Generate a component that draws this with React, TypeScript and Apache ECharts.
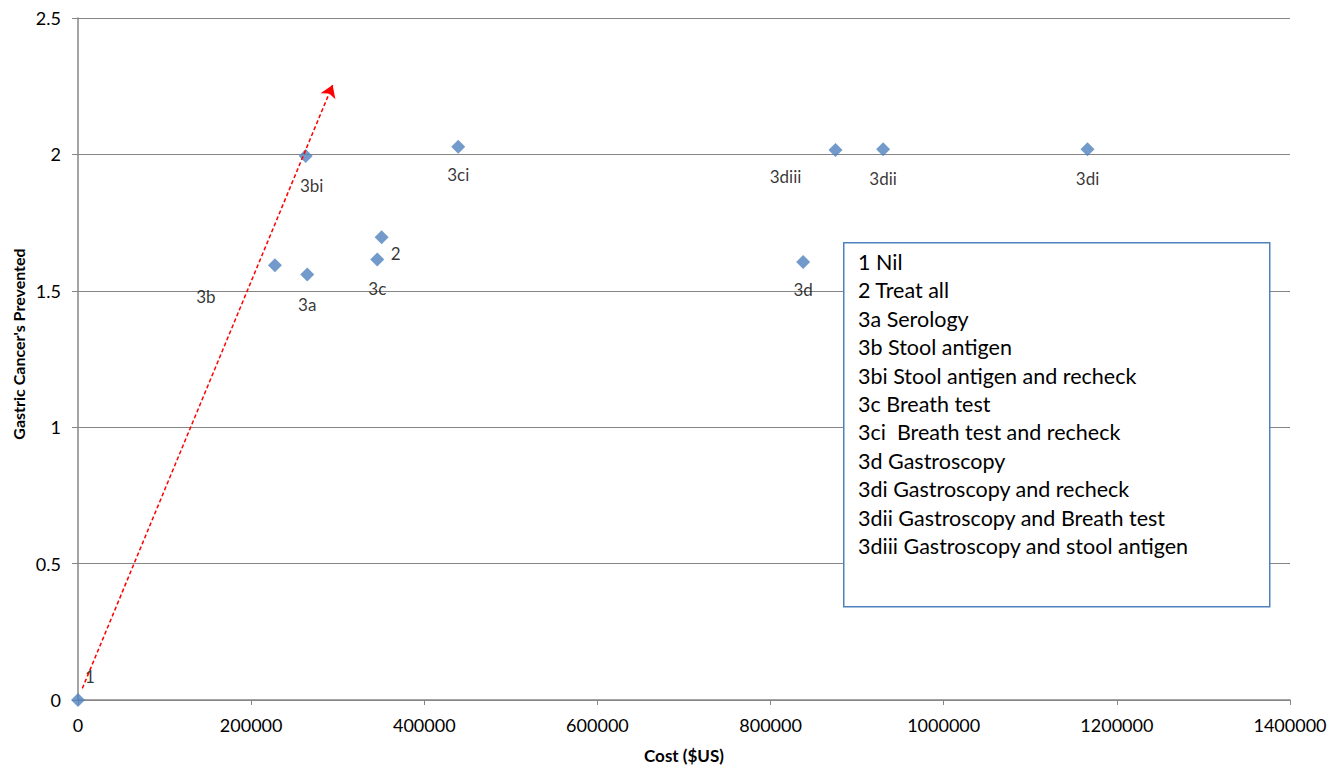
import React, { useEffect, useRef } from "react";
import * as echarts from "echarts";

const strategyNames = ["1", "2", "3a", "3b", "3bi", "3c", "3ci", "3d", "3di", "3dii", "3diii"];
const costUS = [0, 350700, 264800, 227500, 263000, 345700, 439200, 837600, 1166100, 930000, 875000];
const cancersPrevented = [0, 1.696, 1.56, 1.594, 1.994, 1.615, 2.028, 1.606, 2.019, 2.019, 2.016];

const xTicks = [0, 200000, 400000, 600000, 800000, 1000000, 1200000, 1400000];
const yTicks = [0, 0.5, 1, 1.5, 2, 2.5];

const arrowStart = [4966, 0.0425];
const arrowEnd = [294100, 2.254];

const xTitle = "Cost ($US)";
const yTitle = "Gastric Cancer's Prevented";

const legendLines = [
  "1 Nil",
  "2 Treat all",
  "3a Serology",
  "3b Stool antigen",
  "3bi Stool antigen and recheck",
  "3c Breath test",
  "3ci  Breath test and recheck",
  "3d Gastroscopy",
  "3di Gastroscopy and recheck",
  "3dii Gastroscopy and Breath test",
  "3diii Gastroscopy and stool antigen",
];

const labelOffsets: Record<string, [number, number]> = {
  "1": [12, -24],
  "2": [14, 16],
  "3a": [0, 30],
  "3b": [-69, 31],
  "3bi": [6, 29],
  "3c": [0, 29],
  "3ci": [0, 28],
  "3d": [0, 28],
  "3di": [0, 29],
  "3dii": [0, 29],
  "3diii": [-50, 26],
};

const FONT = "Lato, 'Open Sans', sans-serif";

export default function App() {
  const ref = useRef<HTMLDivElement>(null);
  useEffect(() => {
    if (!ref.current) return;
    const chart = echarts.init(ref.current, null, { renderer: "svg" });
    const points = strategyNames.map((n, i) => ({
      name: n,
      value: [costUS[i], cancersPrevented[i]],
      label: { offset: labelOffsets[n] },
    }));
    chart.setOption({
      animation: false,
      backgroundColor: "#ffffff",
      textStyle: { fontFamily: FONT },
      grid: { left: 78, right: 49, top: 18, bottom: 66, containLabel: false },
      xAxis: {
        type: "value",
        min: xTicks[0],
        max: xTicks[xTicks.length - 1],
        interval: 200000,
        axisLine: { show: true, lineStyle: { color: "#868686", width: 1.5 } },
        axisTick: { show: true, length: 5, inside: false, lineStyle: { color: "#868686" } },
        axisLabel: {
          fontSize: 18,
          color: "#000",
          margin: 16,
          fontFamily: FONT,
          formatter: (v: number) => String(v),
        },
        splitLine: { show: false },
      },
      yAxis: {
        type: "value",
        min: yTicks[0],
        max: yTicks[yTicks.length - 1],
        interval: 0.5,
        axisLine: { show: true, lineStyle: { color: "#868686", width: 1.5 } },
        axisTick: { show: true, length: 6, inside: false, lineStyle: { color: "#868686" } },
        axisLabel: { fontSize: 18, color: "#000", margin: 17, fontFamily: FONT, formatter: (v: number) => String(v) },
        splitLine: { show: true, lineStyle: { color: "#868686", width: 1.2 } },
      },
      series: [
        {
          type: "scatter",
          symbol: "diamond",
          symbolSize: 14,
          itemStyle: { color: "#4F81BD" },
          data: points,
          clip: false,
          z: 3,
          label: {
            show: true,
            position: "inside",
            formatter: "{b}",
            color: "#000",
            fontSize: 17,
            fontFamily: FONT,
          },
          markLine: {
            silent: true,
            symbol: ["none", "arrow"],
            symbolSize: 12,
            label: { show: false },
            lineStyle: { color: "#FF0000", type: [4, 2.5], width: 1.5 },
            data: [[{ coord: arrowStart }, { coord: arrowEnd }]],
          },
        },
      ],
      graphic: [
        {
          type: "text",
          x: 684,
          y: 755,
          style: {
            text: xTitle,
            fill: "#000",
            font: `bold 17px ${FONT}`,
            textAlign: "center",
            textVerticalAlign: "middle",
          },
        },
        {
          type: "text",
          x: 18,
          y: 344,
          rotation: Math.PI / 2,
          style: {
            text: yTitle,
            fill: "#000",
            font: `bold 16px ${FONT}`,
            textAlign: "center",
            textVerticalAlign: "middle",
          },
        },
        {
          type: "rect",
          left: 843,
          top: 242,
          shape: { width: 426, height: 364 },
          style: { fill: "#fff", stroke: "#4F81BD", lineWidth: 1.5 },
          z: 10,
        },
        ...legendLines.map((t, i) => ({
          type: "text",
          left: 858,
          top: 251 + i * 28.4,
          style: { text: t, fill: "#000", font: `21.5px ${FONT}` },
          z: 11,
        })),
      ],
    });
    return () => chart.dispose();
  }, []);
  return <div ref={ref} style={{ width: 1339, height: 766, position: "absolute", left: 0, top: 0 }} />;
}
